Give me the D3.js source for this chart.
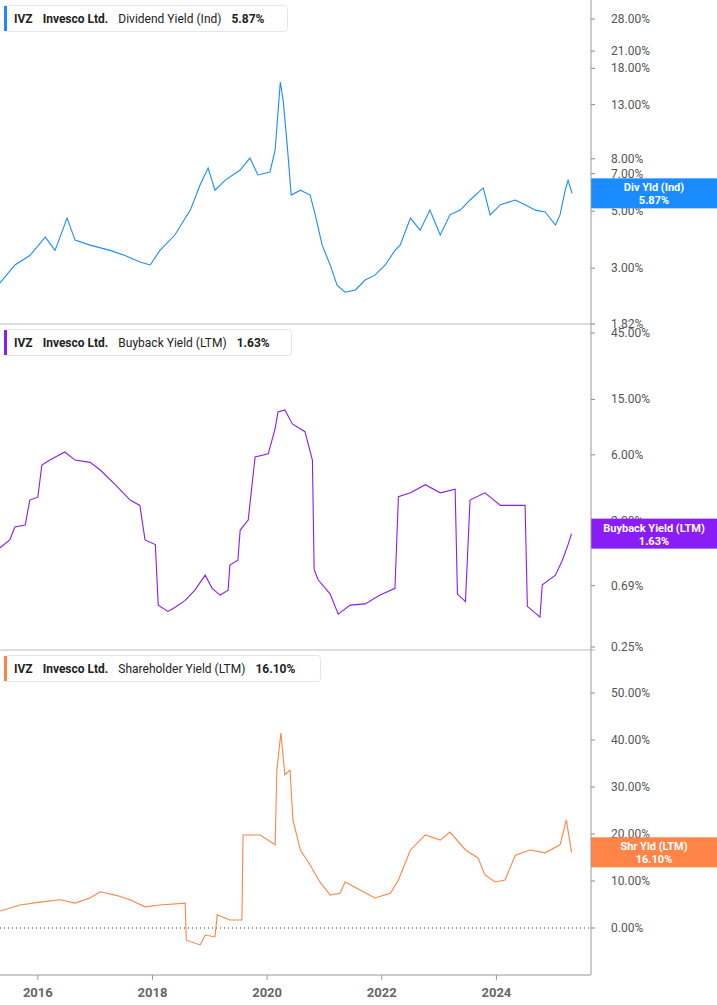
<!DOCTYPE html>
<html><head><meta charset="utf-8">
<script src="https://cdn.jsdelivr.net/npm/d3@7"></script>
<style>body{margin:0;background:#fff;font-family:Roboto,"Liberation Sans",sans-serif}</style>
</head><body><svg id="c" width="717" height="1005"></svg>
<script>
const yearTicks = [2016, 2018, 2020, 2022, 2024];
const divDates = [2015.34,2015.60,2015.86,2016.13,2016.30,2016.51,2016.65,2016.91,2017.26,2017.52,2017.78,2017.96,2018.13,2018.39,2018.66,2018.83,2018.97,2019.09,2019.27,2019.53,2019.70,2019.84,2020.05,2020.14,2020.23,2020.28,2020.35,2020.42,2020.58,2020.75,2020.84,2020.96,2021.10,2021.22,2021.36,2021.54,2021.71,2021.88,2022.06,2022.23,2022.32,2022.50,2022.67,2022.84,2023.02,2023.19,2023.37,2023.54,2023.77,2023.89,2024.07,2024.33,2024.50,2024.68,2024.85,2025.03,2025.11,2025.20,2025.25,2025.32];
const divValues = [2.63,3.09,3.36,3.96,3.52,4.70,3.86,3.69,3.52,3.36,3.17,3.09,3.52,4.04,5.05,6.32,7.36,6.04,6.61,7.23,8.05,6.92,7.11,8.67,15.9,13.5,9.06,5.78,6.04,5.78,4.84,3.69,3.09,2.58,2.42,2.47,2.70,2.82,3.09,3.52,3.69,4.70,4.22,5.05,4.04,4.84,5.05,5.53,6.16,4.84,5.30,5.53,5.30,5.05,4.97,4.42,4.84,6.04,6.61,5.87];
const bbDates = [2015.34,2015.51,2015.60,2015.78,2015.86,2016.00,2016.07,2016.21,2016.47,2016.65,2016.91,2017.09,2017.35,2017.61,2017.78,2017.87,2018.05,2018.10,2018.27,2018.39,2018.57,2018.74,2018.92,2019.04,2019.18,2019.32,2019.35,2019.49,2019.53,2019.67,2019.79,2020.02,2020.14,2020.19,2020.31,2020.44,2020.66,2020.79,2020.82,2020.89,2021.10,2021.24,2021.45,2021.71,2021.97,2022.23,2022.29,2022.50,2022.76,2023.02,2023.28,2023.32,2023.46,2023.54,2023.80,2024.07,2024.50,2024.54,2024.76,2024.80,2025.03,2025.15,2025.25,2025.31];
const bbValues = [1.29,1.47,1.82,1.88,2.84,2.98,5.07,5.5,6.29,5.5,5.3,4.67,3.66,2.84,2.6,1.47,1.36,0.50,0.45,0.48,0.54,0.64,0.82,0.66,0.59,0.64,0.97,1.05,1.73,2.04,5.8,6.1,9.3,12.2,12.6,10.0,8.8,5.5,0.9,0.76,0.60,0.43,0.50,0.51,0.59,0.66,3.0,3.2,3.66,3.2,3.4,0.60,0.53,2.84,3.2,2.6,2.6,0.49,0.41,0.70,0.82,1.05,1.36,1.63];
const shDates = [2015.34,2015.69,2016.04,2016.39,2016.65,2016.91,2017.09,2017.35,2017.61,2017.87,2018.13,2018.57,2018.59,2018.83,2018.92,2019.09,2019.13,2019.35,2019.56,2019.58,2019.88,2020.14,2020.17,2020.24,2020.31,2020.40,2020.45,2020.58,2020.75,2020.92,2021.10,2021.27,2021.36,2021.62,2021.88,2022.15,2022.29,2022.50,2022.76,2023.02,2023.19,2023.46,2023.68,2023.80,2023.98,2024.15,2024.33,2024.59,2024.85,2025.11,2025.22,2025.31];
const shValues = [3.6,4.9,5.5,6.0,5.3,6.4,7.7,7.0,6.0,4.5,4.9,5.3,-2.6,-3.6,-1.5,-1.9,2.8,1.7,1.7,19.8,19.8,17.7,33.6,41.5,32.6,33.6,23.0,16.6,13.4,9.8,7.0,7.4,9.8,8.1,6.4,7.4,10.2,16.6,19.8,18.7,20.4,16.6,14.9,11.3,9.8,10.2,15.5,16.6,16.0,17.7,23.0,16.1];
const divTicks = [28,21,18,13,8,7,5,3,1.82];
const bbTicks = [45,15,6,2,0.69,0.25];
const shTicks = [50,40,30,20,10,0];

const svg = d3.select("#c");
const W = 591;
const x = d3.scaleLinear().domain([2015.34, 2025.65]).range([0, W]);
const panels = [
  {dates:divDates, vals:divValues, ticks:divTicks, y:d3.scaleLog().domain([1.82,28]).range([324,19]), top:0, bot:324,
   color:"#1a8cff", legend:["IVZ","Invesco Ltd.","Dividend Yield (Ind)","5.87%"], tag:["Div Yld (Ind)","5.87%"], last:5.87, lw:283},
  {dates:bbDates, vals:bbValues, ticks:bbTicks, y:d3.scaleLog().domain([0.25,45]).range([647,333]), top:324, bot:650,
   color:"#8a1cf5", legend:["IVZ","Invesco Ltd.","Buyback Yield (LTM)","1.63%"], tag:["Buyback Yield (LTM)","1.63%"], last:1.63, lw:287},
  {dates:shDates, vals:shValues, ticks:shTicks, y:d3.scaleLinear().domain([0,50]).range([928,693]), top:650, bot:975,
   color:"#ff8447", legend:["IVZ","Invesco Ltd.","Shareholder Yield (LTM)","16.10%"], tag:["Shr Yld (LTM)","16.10%"], last:16.10, lw:316}
];
panels.forEach((p,i)=>{
  const g = svg.append("g");
  // ticks
  p.ticks.forEach(t=>{
    const yy = p.y(t);
    g.append("line").attr("x1",W).attr("x2",W+4).attr("y1",yy).attr("y2",yy).attr("stroke","#888");
    g.append("text").attr("x",W+20).attr("y",yy+4).attr("font-size",12).attr("fill","#555").text(t.toFixed(2)+"%");
  });
  if(i===2){
    g.append("line").attr("x1",0).attr("x2",W).attr("y1",p.y(0)).attr("y2",p.y(0)).attr("stroke","#333").attr("stroke-dasharray","1,3");
  }
  const line = d3.line().x((d,k)=>x(p.dates[k])).y(d=>p.y(d));
  g.append("path").datum(p.vals).attr("d",line).attr("fill","none").attr("stroke",p.color).attr("stroke-width",1.1);
  if(i<2) g.append("line").attr("x1",0).attr("x2",W+4).attr("y1",p.bot).attr("y2",p.bot).attr("stroke","#bbb");
  // legend
  const ly = p.top+5;
  g.append("rect").attr("x",4.5).attr("y",ly+0.5).attr("width",p.lw).attr("height",26).attr("rx",3).attr("fill","#fff").attr("stroke","#e6e6e6");
  g.append("rect").attr("x",4).attr("y",ly+1).attr("width",3).attr("height",25).attr("fill",p.color);
  const t = g.append("text").attr("x",14).attr("y",ly+18).attr("font-size",12).attr("fill","#222");
  t.append("tspan").attr("font-weight","bold").text(p.legend[0]);
  t.append("tspan").attr("dx",10).attr("font-weight","bold").text(p.legend[1]);
  t.append("tspan").attr("dx",10).text(p.legend[2]);
  t.append("tspan").attr("dx",10).attr("font-weight","bold").text(p.legend[3]);
  // tag
  const ty = p.y(p.last);
  g.append("rect").attr("x",W).attr("y",ty-15).attr("width",717-W).attr("height",30).attr("fill",p.color);
  g.append("text").attr("x",(W+717)/2).attr("y",ty-2).attr("text-anchor","middle").attr("font-size",11).attr("font-weight","bold").attr("fill","#fff").text(p.tag[0]);
  g.append("text").attr("x",(W+717)/2).attr("y",ty+11).attr("text-anchor","middle").attr("font-size",11).attr("font-weight","bold").attr("fill","#fff").text(p.tag[1]);
});
svg.append("line").attr("x1",W).attr("x2",W).attr("y1",0).attr("y2",975).attr("stroke","#999");
svg.append("line").attr("x1",0).attr("x2",W).attr("y1",975).attr("y2",975).attr("stroke","#bbb").attr("stroke-width",1.5);
yearTicks.forEach(yr=>{
  svg.append("line").attr("x1",x(yr)).attr("x2",x(yr)).attr("y1",975).attr("y2",980).attr("stroke","#999");
  svg.append("text").attr("x",x(yr)).attr("y",997).attr("text-anchor","middle").attr("font-size",13).attr("font-weight","bold").attr("fill","#666").text(yr);
});
</script></body></html>
